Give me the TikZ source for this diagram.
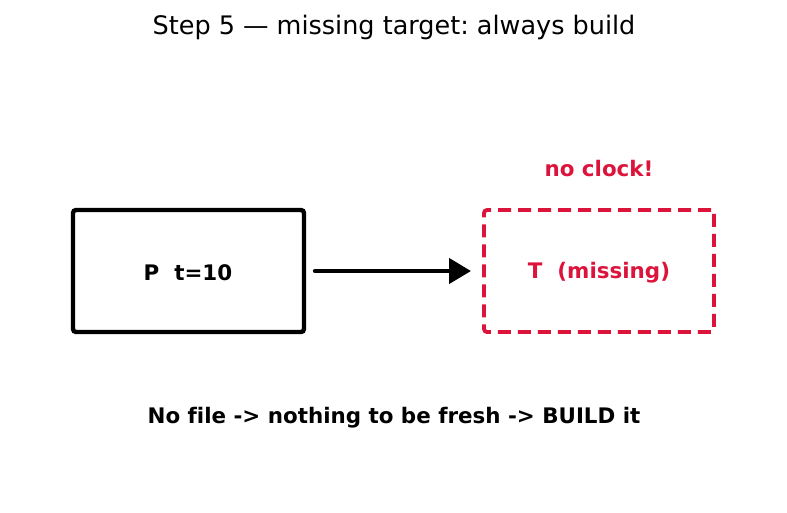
\documentclass[tikz,border=0pt]{standalone}
\usepackage{fontspec}
\setmainfont[Ligatures=NoCommon]{DejaVu Sans}
\usetikzlibrary{arrows.meta}
\definecolor{crim}{HTML}{DC143C}
\frenchspacing
\begin{document}
\begin{tikzpicture}[x=1pt,y=-1pt,
  boxst/.style={draw=black,line width=4.4pt,rounded corners=3pt,minimum width=231pt,minimum height=122pt,inner sep=0pt},
  missbox/.style={draw=crim,line width=3.8pt,rounded corners=3pt,dash pattern=on 13pt off 7pt,minimum width=230pt,minimum height=122pt,inner sep=0pt},
  lbl/.style={font=\fontsize{21.4}{25}\selectfont\bfseries,inner sep=0pt},
  conn/.style={line width=4.4pt,line cap=round,-{Triangle[length=22pt,width=25pt]}}]
\useasboundingbox (0,0) rectangle (787,512);
\node[font=\fontsize{25.5}{30}\selectfont,inner sep=0pt] (title) at (394,27.5) {Step 5 — missing target: always build};
\node[boxst] (P) at (188.5,271) {};
\node[lbl] (Pl) at (188,272.5) {P\ \ t=10};
\node[missbox] (T) at (599,271) {};
\node[lbl,text=crim] (Tl) at (599,272.5) {T\ \ (missing)};
\node[lbl,text=crim] (clock) at (599,169) {no clock!};
\node[lbl] (note) at (394,417.5) {No file -> nothing to be fresh -> BUILD it};
\coordinate (a1) at (315,271);
\coordinate (a2) at (471,271);
\draw[conn] (a1) -- (a2);
\end{tikzpicture}
\end{document}
